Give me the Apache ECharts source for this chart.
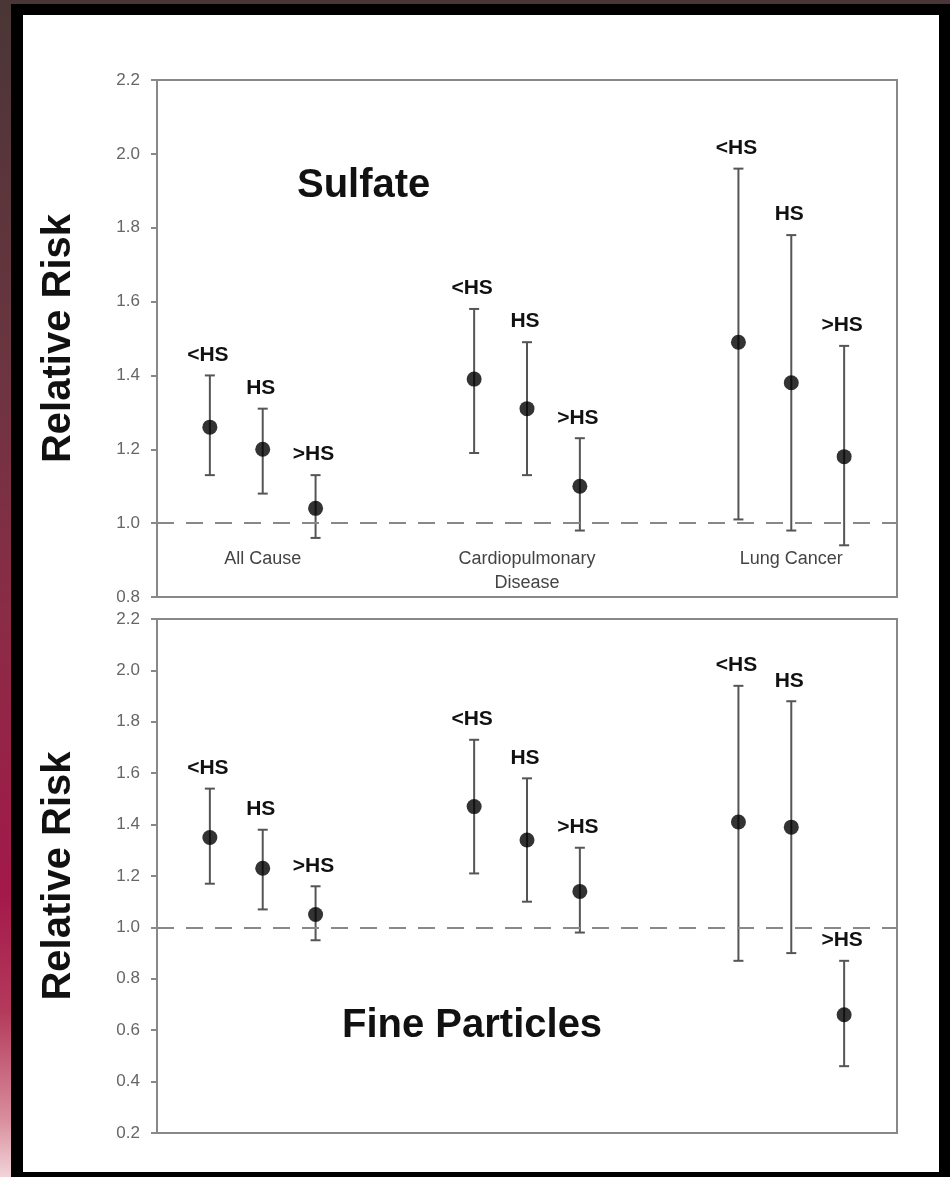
<!DOCTYPE html>
<html>
<head>
<meta charset="utf-8">
<script src="https://cdn.jsdelivr.net/npm/echarts@6/dist/echarts.min.js"></script>
<style>
  html, body { margin: 0; padding: 0; background: #000; }
  #frame { position: relative; width: 950px; height: 1177px; background: #000; overflow: hidden; }
  #topband { position: absolute; left: 0; top: 0; width: 950px; height: 4px; background: #4a3636; }
  #leftband { position: absolute; left: 0; top: 0; width: 11px; height: 1177px;
    background: linear-gradient(to bottom, #4a3636 0%, #6a3540 30%, #8a2c46 52%, #a3194a 76%, #b43a5c 86%, #d88c9c 95%, #f2d4d8 100%); }
  #paper { position: absolute; left: 23px; top: 15px; width: 916px; height: 1157px; background: #fff; }
  #chart { position: absolute; left: 0; top: 0; width: 950px; height: 1177px; }
</style>
</head>
<body>
<div id="frame">
  <div id="topband"></div>
  <div id="leftband"></div>
  <div id="paper"></div>
  <div id="chart"></div>
</div>
<script>
// causes and exposure tiers (less than high school, high school, more than high school)
const groups = ['All Cause', 'Cardiopulmonary\nDisease', 'Lung Cancer'];
const tiers = ['<HS', 'HS', '>HS'];

// sulfate: relative risk and 95% CI, order = groups x tiers
const sulfateRR   = [1.26, 1.20, 1.04, 1.39, 1.31, 1.10, 1.49, 1.38, 1.18];
const sulfateLow  = [1.13, 1.08, 0.96, 1.19, 1.13, 0.98, 1.01, 0.98, 0.94];
const sulfateHigh = [1.40, 1.31, 1.13, 1.58, 1.49, 1.23, 1.96, 1.78, 1.48];

// fine particles
const fineRR   = [1.35, 1.23, 1.05, 1.47, 1.34, 1.14, 1.41, 1.39, 0.66];
const fineLow  = [1.17, 1.07, 0.95, 1.21, 1.10, 0.98, 0.87, 0.90, 0.46];
const fineHigh = [1.54, 1.38, 1.16, 1.73, 1.58, 1.31, 1.94, 1.88, 0.87];

const FONT = '"Liberation Sans", Arial, Helvetica, sans-serif';

// x slot: three per group, two empty slots between groups
function slot(i) {
  return Math.floor(i / 3) * 5 + (i % 3) + 1;
}

function rows(rr, lo, hi) {
  return rr.map((v, i) => [slot(i), v, lo[i], hi[i], i % 3]);
}

function renderBar(params, api) {
  const x = api.value(0);
  const pLo = api.coord([x, api.value(2)]);
  const pHi = api.coord([x, api.value(3)]);
  const cap = 5;
  const stroke = { stroke: '#555', lineWidth: 2 };
  return {
    type: 'group',
    children: [
      { type: 'line', shape: { x1: pLo[0], y1: pLo[1], x2: pHi[0], y2: pHi[1] }, style: stroke },
      { type: 'line', shape: { x1: pHi[0] - cap, y1: pHi[1], x2: pHi[0] + cap, y2: pHi[1] }, style: stroke },
      { type: 'line', shape: { x1: pLo[0] - cap, y1: pLo[1], x2: pLo[0] + cap, y2: pLo[1] }, style: stroke },
      {
        type: 'text', x: pHi[0] - 2, y: pHi[1] - 10,
        style: {
          text: tiers[api.value(4)], fill: '#111',
          font: 'bold 21px ' + FONT, align: 'center', verticalAlign: 'bottom'
        }
      }
    ]
  };
}

function renderGroupLabel(params, api) {
  const p = api.coord([api.value(0), 0.935]);
  return {
    type: 'text', x: p[0], y: p[1],
    style: {
      text: groups[params.dataIndex], fill: '#444',
      font: '18px ' + FONT, align: 'center', verticalAlign: 'top', lineHeight: 24
    }
  };
}

function yAxisFor(gridIndex, min) {
  return {
    type: 'value', gridIndex: gridIndex, min: min, max: 2.2, interval: 0.2,
    name: 'Relative Risk', nameLocation: 'middle', nameGap: 78, nameRotate: 90,
    nameTextStyle: { fontFamily: FONT, fontWeight: 'bold', fontSize: 40, color: '#111' },
    axisLine: { show: true, lineStyle: { color: '#888', width: 2 } },
    axisTick: { show: true, inside: false, length: 6, lineStyle: { color: '#888', width: 2 } },
    axisLabel: { margin: 17, fontFamily: FONT, fontSize: 17, color: '#666', formatter: v => v.toFixed(1) },
    splitLine: { show: false }
  };
}

function xAxisFor(gridIndex) {
  return {
    type: 'value', gridIndex: gridIndex, min: 0, max: 14,
    axisLine: { show: false }, axisTick: { show: false }, axisLabel: { show: false }, splitLine: { show: false }
  };
}

function panelSeries(idx, rr, lo, hi) {
  const data = rows(rr, lo, hi);
  return [
    {
      type: 'custom', xAxisIndex: idx, yAxisIndex: idx, renderItem: renderBar,
      data: data, silent: true, z: 3
    },
    {
      type: 'scatter', xAxisIndex: idx, yAxisIndex: idx, symbol: 'circle', symbolSize: 15,
      itemStyle: { color: '#000' }, data: data.map(d => [d[0], d[1]]), silent: true, z: 4,
      markLine: {
        silent: true, symbol: 'none', label: { show: false },
        lineStyle: { color: '#888', width: 2, type: [17, 12] },
        data: [{ yAxis: 1.0 }]
      }
    }
  ];
}

const myChart = echarts.init(document.getElementById('chart'), null, { renderer: 'canvas' });

const option = {
  backgroundColor: 'transparent',
  animation: false,
  title: [
    { text: 'Sulfate', left: 292, top: 161, textStyle: { fontFamily: FONT, fontWeight: 'bold', fontSize: 40, color: '#111' } },
    { text: 'Fine Particles', left: 337, top: 1001, textStyle: { fontFamily: FONT, fontWeight: 'bold', fontSize: 40, color: '#111' } }
  ],
  grid: [
    { left: 157, top: 80, width: 740, height: 517, show: true, borderColor: '#888', borderWidth: 2 },
    { left: 157, top: 619, width: 740, height: 514, show: true, borderColor: '#888', borderWidth: 2 }
  ],
  xAxis: [xAxisFor(0), xAxisFor(1)],
  yAxis: [yAxisFor(0, 0.8), yAxisFor(1, 0.2)],
  series: [
    ...panelSeries(0, sulfateRR, sulfateLow, sulfateHigh),
    ...panelSeries(1, fineRR, fineLow, fineHigh),
    {
      type: 'custom', xAxisIndex: 0, yAxisIndex: 0, renderItem: renderGroupLabel, silent: true,
      data: groups.map((g, i) => [slot(i * 3 + 1)])
    }
  ]
};

myChart.setOption(option);
</script>
</body>
</html>
